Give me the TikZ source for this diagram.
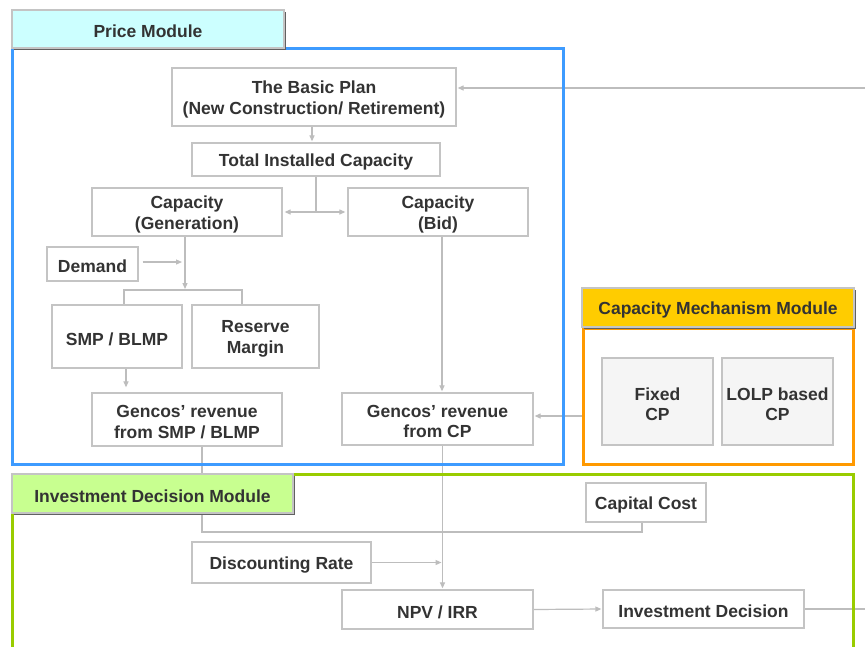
\documentclass[tikz,border=0pt]{standalone}
\usepackage{fontspec}
\setmainfont{Liberation Sans}
\usetikzlibrary{arrows.meta,shadows}
\pgfdeclarelayer{conlayer}
\pgfdeclarelayer{framelayer}
\pgfsetlayers{conlayer,framelayer,main}
\definecolor{txt}{HTML}{333333}
\definecolor{bord}{HTML}{C4C4C4}
\definecolor{conn}{HTML}{BDBDBD}
\definecolor{pblue}{HTML}{3D9BFF}
\definecolor{corange}{HTML}{FF9900}
\definecolor{igreen}{HTML}{99CC00}
\definecolor{hcyan}{HTML}{CCFFFF}
\definecolor{hyellow}{HTML}{FFCC00}
\definecolor{hgreen}{HTML}{C8FF90}
\definecolor{cpfill}{HTML}{F5F5F5}
\tikzset{
  txtlab/.style={font=\fontsize{17.5}{20.5}\selectfont\bfseries, text=txt, align=center, inner sep=0pt, yshift=-2.5pt},
  box/.style={draw=bord, line width=1.3pt, fill=white, inner sep=0pt, label={[txtlab]center:#1}},
  cpbox/.style={box={#1}, fill=cpfill},
  hdr/.style={draw=bord, line width=1.5pt, inner sep=0pt, label={[txtlab]center:#1},
    general shadow={fill=black!62, shadow xshift=2.2pt, shadow yshift=-2.2pt}},
  frame/.style={line width=3pt},
  link/.style={draw=conn, line width=1.2pt},
  arr/.style={link, -{Triangle[length=6pt,width=5pt]}, shorten >=1pt},
}
\begin{document}
\begin{tikzpicture}[x=1pt,y=-1pt]
\useasboundingbox (0,0) rectangle (865,646);
\clip (0,0) rectangle (865,646);

% module frames
\begin{pgfonlayer}{framelayer}
\draw[frame, pblue] (12,48) rectangle (563,464);
\draw[frame, corange] (583,328) rectangle (853,464);
\draw[frame, igreen] (12,474) rectangle (853,670);
\end{pgfonlayer}

% module headers
\node[hdr={Price Module}, fill=hcyan, minimum width=272pt, minimum height=38pt] (pricehdr) at (148,29) {};
\node[hdr={Capacity Mechanism Module}, fill=hyellow, minimum width=272pt, minimum height=39pt] (cmmhdr) at (718,307.5) {};
\node[hdr={Investment Decision Module}, fill=hgreen, minimum width=281pt, minimum height=39pt] (idmhdr) at (152.5,493.5) {};

% price module boxes
\node[box={The Basic Plan\\(New Construction/ Retirement)}, minimum width=284pt, minimum height=58pt] (basic) at (314,97) {};
\node[box={Total Installed Capacity}, minimum width=248pt, minimum height=33pt] (total) at (316,159.5) {};
\node[box={Capacity\\(Generation)}, minimum width=190pt, minimum height=48pt] (capgen) at (187,212) {};
\node[box={Capacity\\(Bid)}, minimum width=180pt, minimum height=48pt] (capbid) at (438,212) {};
\node[box={Demand}, minimum width=91pt, minimum height=34pt] (demand) at (92.5,264) {};
\node[box={SMP / BLMP}, minimum width=130pt, minimum height=63pt] (smp) at (117,336.5) {};
\node[box={Reserve\\Margin}, minimum width=127pt, minimum height=63pt] (reserve) at (255.5,336.5) {};
\node[box={Gencos’ revenue\\from SMP / BLMP}, minimum width=190pt, minimum height=53pt] (gsmp) at (187,419.5) {};
\node[box={Gencos’ revenue\\from CP}, minimum width=191pt, minimum height=52pt] (gcp) at (437.5,419) {};

% capacity mechanism boxes
\node[cpbox={Fixed\\CP}, minimum width=111pt, minimum height=87pt] (fixed) at (657.5,401.5) {};
\node[cpbox={LOLP based\\CP}, minimum width=111pt, minimum height=87pt] (lolp) at (777.5,401.5) {};

% investment decision boxes
\node[box={Capital Cost}, minimum width=120pt, minimum height=39pt] (capcost) at (646,502.5) {};
\node[box={Discounting Rate}, minimum width=179pt, minimum height=41pt] (disc) at (281.5,562.5) {};
\node[box={NPV / IRR}, minimum width=191pt, minimum height=39pt] (npv) at (437.5,609.5) {};
\node[box={Investment Decision}, minimum width=201pt, minimum height=38pt] (invdec) at (703.5,609) {};

% helper coordinates
\coordinate (inR) at (865,88);
\coordinate (outR) at (865,609);
\coordinate (br) at (185,290);
\coordinate (brl) at (124,290);
\coordinate (brr) at (242,290);
\coordinate (dj) at (184,262);
\coordinate (cmml) at (583,416);
\coordinate (ccj) at (642,532);
\coordinate (gcpdown) at ([xshift=5pt]gcp.south);

% connectors
\begin{pgfonlayer}{conlayer}
\fill[white] (0,0) rectangle (865,646);
\draw[arr] (inR) -- (inR -| basic.east);
\draw[arr] ([xshift=-2pt]basic.south) -- ([xshift=-2pt]basic.south |- total.north);
\draw[arr, shorten >=2pt] (total.south) |- (capgen.east);
\draw[arr, shorten >=2pt] (total.south) |- (capbid.west);
\draw[arr, shorten <=4pt, shorten >=2pt] (demand.east |- dj) -- (dj);
\draw[arr] (capgen.south -| br) -- (br);
\draw[link] (smp.north -| brl) |- (brr) -- (reserve.north -| brr);
\draw[arr, shorten >=5pt] ([xshift=9pt]smp.south) -- ([xshift=9pt]smp.south |- gsmp.north);
\draw[arr] ([xshift=4pt]capbid.south) -- ([xshift=4pt]capbid.south |- gcp.north);
\draw[arr] (cmml) -- (cmml -| gcp.east);
\draw[link] ([xshift=15pt]gsmp.south) |- (ccj) -- (ccj |- capcost.south);
\draw[arr] (gcpdown) -- (gcpdown |- npv.north);
\draw[arr] (disc.east) -- (disc.east -| gcpdown);
\draw[arr] (npv.east) -- (invdec.west);
\draw[link] (invdec.east) -- (outR);
\end{pgfonlayer}
\end{tikzpicture}
\end{document}
